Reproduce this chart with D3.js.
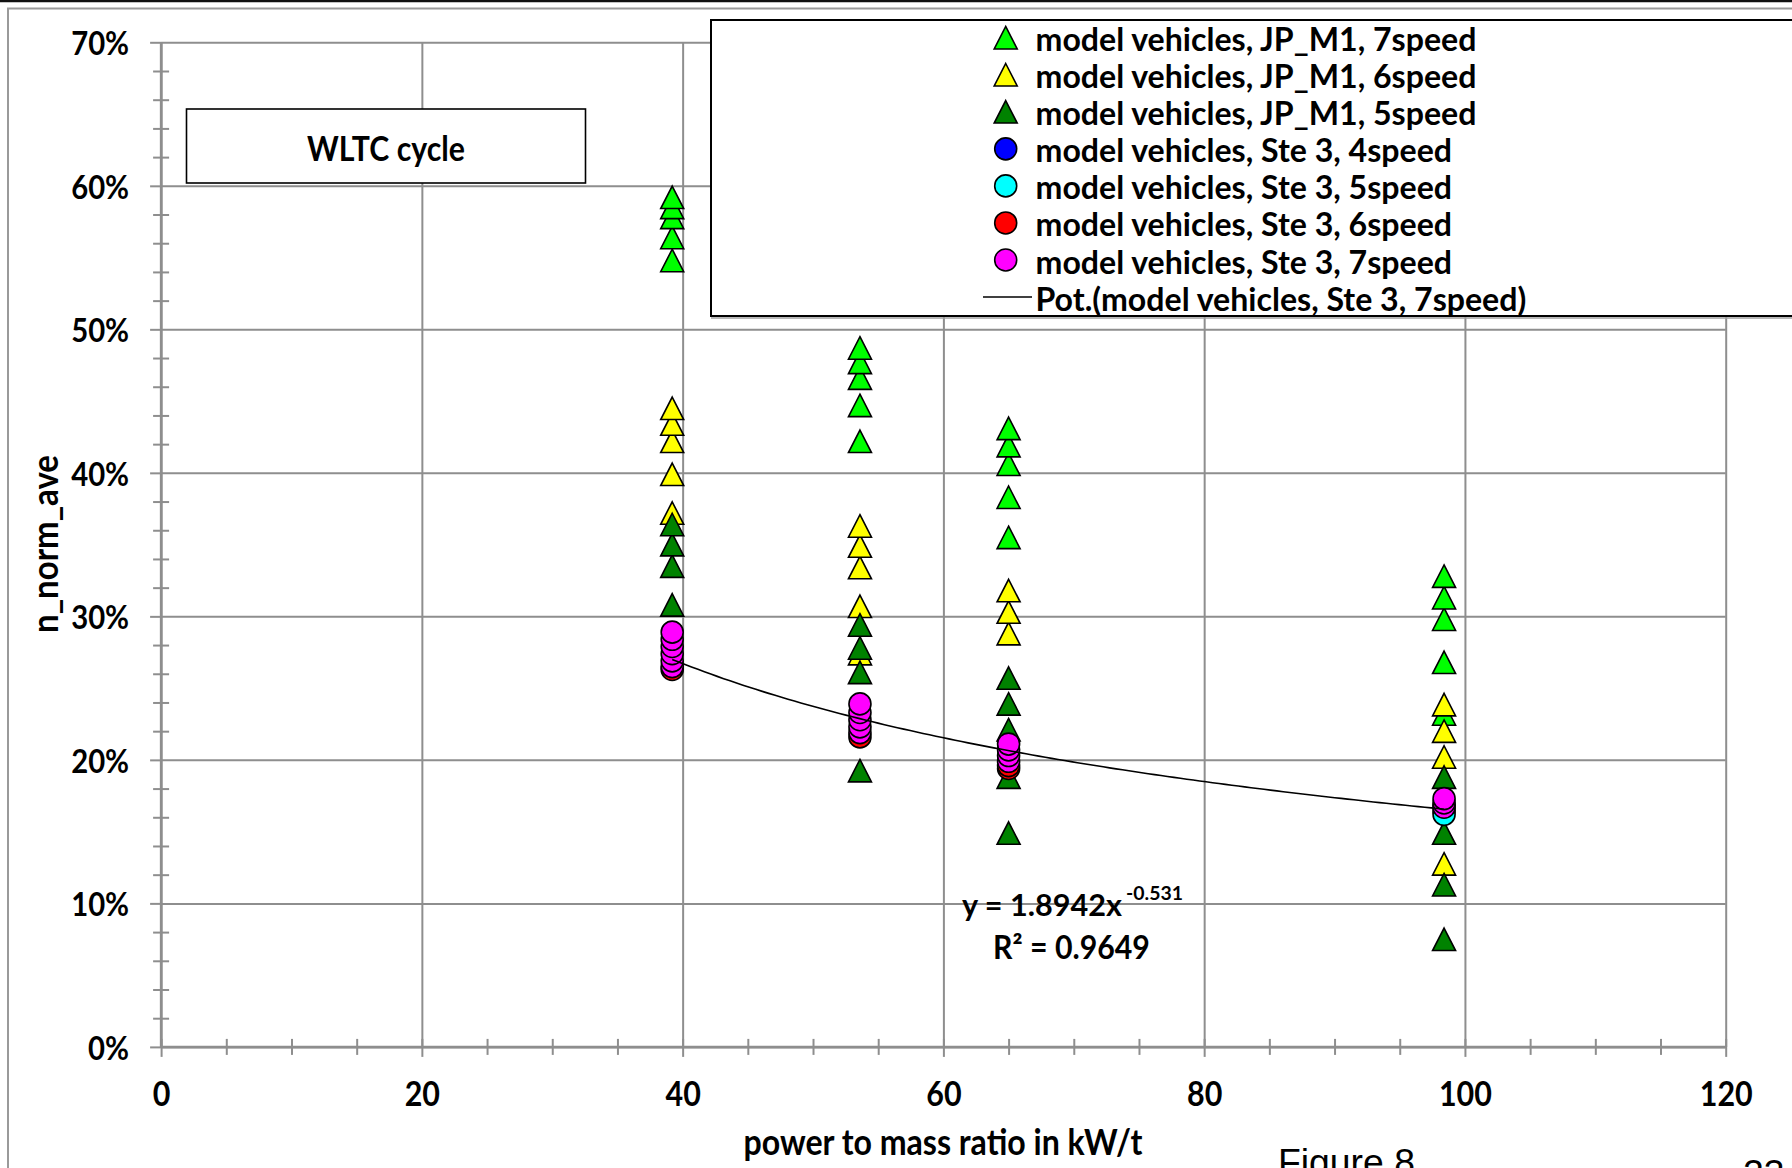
<!DOCTYPE html>
<html><head><meta charset="utf-8">
<script src="https://cdn.jsdelivr.net/npm/d3@7"></script>
<style>html,body{margin:0;padding:0;background:#fff;overflow:hidden}svg{display:block}</style>
</head><body>
<svg id="chart" width="1792" height="1168"></svg>
<script>
// ---------- data ----------
const xPositions = [39.2, 53.6, 65.0, 98.4];           // power to mass ratio, kW/t
const seriesNames = [
  "model vehicles, JP_M1, 7speed",
  "model vehicles, JP_M1, 6speed",
  "model vehicles, JP_M1, 5speed",
  "model vehicles, Ste 3, 4speed",
  "model vehicles, Ste 3, 5speed",
  "model vehicles, Ste 3, 6speed",
  "model vehicles, Ste 3, 7speed"
];
const seriesShapes = ["triangle","triangle","triangle","circle","circle","circle","circle"];
const seriesColors = ["#00ff00","#ffff00","#008200","#0000ff","#00ffff","#ff0000","#ff00ff"];
// values in %, one list per x position
const jp7  = [[54.8,56.4,57.8,58.5,59.2],[42.2,44.7,46.6,47.7,48.7],[35.5,38.3,40.6,41.9,43.1],[23.2,26.8,29.8,31.3,32.8]];
const jp6  = [[37.2,39.9,42.2,43.4,44.5],[27.4,30.7,33.4,34.9,36.3],[28.8,30.3,31.8],[12.75,20.2,22.0,23.85]];
const jp5  = [[30.8,33.5,35.0,36.4],[19.25,26.1,27.8,29.4],[14.9,18.8,22.1,23.9,25.7],[7.5,11.3,14.9,18.8]];
const ste4 = [[],[],[],[16.45]];
const ste5 = [[],[],[],[16.2]];
const ste6 = [[26.3],[21.6],[19.4,19.6],[16.8]];
const ste7 = [[26.5,26.9,27.4,27.9,28.4,28.9],[21.9,22.3,22.8,23.3,23.9],[19.9,20.3,20.7,21.1],[16.7,17.0,17.3]];
const seriesValues = [jp7, jp6, jp5, ste4, ste5, ste6, ste7];
// power trendline of Ste 3, 7speed: y = a * x^b
const trendName = "Pot.(model vehicles, Ste 3, 7speed)";
const trendA = 1.8942, trendB = -0.531;
const trendRange = [39.2, 98.4];
const equationMain = "y = 1.8942x", equationExp = "-0.531", rSquaredLabel = "R² = 0.9649";
const xTicks = [0,20,40,60,80,100,120];
const yTicks = [0,10,20,30,40,50,60,70];
const xTitle = "power to mass ratio in kW/t";
const yTitle = "n_norm_ave";
const boxLabel = "WLTC cycle";
const figureLabel = "Figure 8";
const pageLabel = "23";

// ---------- drawing ----------
const svg = d3.select("#chart");
const W = 1792, H = 1168;
const gray = "#8e8e8e";
const FONT = "Lato, 'Open Sans', sans-serif";
const x = d3.scaleLinear().domain([0,120]).range([161.1,1725.7]);
const y = d3.scaleLinear().domain([0,70]).range([1046.9,42.3]);

function fitSize(node, target){
  d3.select(node).attr("font-size", 40);
  const w = node.getComputedTextLength();
  return 40 * target / w;
}
// fit the width of a reference node; optionally make glyphs taller and condense them back
function styleGroup(sel, refNode, target, stretch){
  const s = fitSize(refNode, target);
  sel.attr("font-size", s*stretch).attr("textLength", null);
  if(stretch !== 1){
    sel.each(function(){
      const w = this.getComputedTextLength();
      d3.select(this).attr("textLength", w/stretch).attr("lengthAdjust","spacingAndGlyphs");
    });
  }
  return s*stretch;
}

svg.append("rect").attr("width",W).attr("height",H).attr("fill","#fff");
// outer frame
svg.append("rect").attr("x",8).attr("y",8.5).attr("width",W+20).attr("height",H+20)
  .attr("fill","none").attr("stroke","#9a9a9a").attr("stroke-width",2);
svg.append("line").attr("x1",0).attr("x2",W).attr("y1",1).attr("y2",1).attr("stroke","#111").attr("stroke-width",2.5);

// gridlines
svg.append("g").attr("transform",`translate(0,${y(0)})`)
  .call(d3.axisBottom(x).tickValues(xTicks).tickSize(-(y(0)-y(70))).tickFormat(""))
  .call(g=>g.select(".domain").remove())
  .selectAll("line").attr("stroke",gray).attr("stroke-width",2);
svg.append("g").attr("transform",`translate(${x(0)},0)`)
  .call(d3.axisLeft(y).tickValues(yTicks).tickSize(-(x(120)-x(0))).tickFormat(""))
  .call(g=>g.select(".domain").remove())
  .selectAll("line").attr("stroke",gray).attr("stroke-width",2);

// minor ticks
const yMinor = d3.range(0,71,2).filter(v=>v%10!==0);
svg.append("g").attr("transform",`translate(${x(0)},0)`)
  .call(d3.axisLeft(y).tickValues(yMinor).tickSize(8).tickFormat(""))
  .call(g=>g.select(".domain").remove())
  .selectAll("line").attr("x2",-8).attr("x1",8).attr("stroke",gray).attr("stroke-width",2);
const xMinor = d3.range(0,121,5).filter(v=>v%20!==0);
svg.append("g").attr("transform",`translate(0,${y(0)})`)
  .call(d3.axisBottom(x).tickValues(xMinor).tickSize(8).tickFormat(""))
  .call(g=>g.select(".domain").remove())
  .selectAll("line").attr("y1",-8).attr("y2",8).attr("stroke",gray).attr("stroke-width",2);

// y axis with labels
const yAxis = svg.append("g").attr("transform",`translate(${x(0)},0)`)
  .call(d3.axisLeft(y).tickValues(yTicks).tickSize(11).tickPadding(21).tickFormat(d=>d+"%"));
yAxis.attr("font-size",null);
yAxis.select(".domain").attr("stroke",gray).attr("stroke-width",2.5).attr("d",`M0,${y(70)}V${y(0)}`);
yAxis.selectAll(".tick line").attr("stroke",gray).attr("stroke-width",2);
const yLab = yAxis.selectAll(".tick text").attr("font-family",FONT).attr("font-weight","bold").attr("fill","#000")
  .attr("dy",null).attr("dominant-baseline","central");
styleGroup(yLab, yLab.filter(d=>d===70).node(), 58, 1.12);

// x axis with labels
const xAxis = svg.append("g").attr("transform",`translate(0,${y(0)})`)
  .call(d3.axisBottom(x).tickValues(xTicks).tickSize(10).tickPadding(30).tickFormat(d=>d));
xAxis.attr("font-size",null);
xAxis.select(".domain").attr("stroke",gray).attr("stroke-width",2.5).attr("d",`M${x(0)},0H${x(120)}`);
xAxis.selectAll(".tick line").attr("y1",-8).attr("stroke",gray).attr("stroke-width",2);
const xLab = xAxis.selectAll(".tick text").attr("font-family",FONT).attr("font-weight","bold").attr("fill","#000")
  .attr("y",1092.5-y(0)).attr("dy",null).attr("dominant-baseline","central");
styleGroup(xLab, xLab.filter(d=>d===100).node(), 53, 1.12);

// axis titles
const xt = svg.append("text").text(xTitle).attr("font-family",FONT).attr("font-weight","bold")
  .attr("text-anchor","middle").attr("x",943).attr("y",1141).attr("dominant-baseline","central");
styleGroup(xt, xt.node(), 399, 1.1);
const yt = svg.append("text").text(yTitle).attr("font-family",FONT).attr("font-weight","bold")
  .attr("text-anchor","middle").attr("dominant-baseline","central")
  .attr("transform","translate(44,544) rotate(-90)");
styleGroup(yt, yt.node(), 178, 1.1);

// WLTC box
svg.append("rect").attr("x",186.5).attr("y",109).attr("width",399).attr("height",74)
  .attr("fill","#fff").attr("stroke","#000").attr("stroke-width",1.6);
const bt = svg.append("text").text(boxLabel).attr("font-family",FONT).attr("font-weight","bold")
  .attr("text-anchor","middle").attr("x",386).attr("y",148).attr("dominant-baseline","central");
styleGroup(bt, bt.node(), 158, 1.12);

// markers
const triPath = (w,h)=>`M0,${-h/2}L${w/2},${h/2}L${-w/2},${h/2}Z`;
function drawMarker(g, shape, color){
  if(shape==="triangle") g.append("path").attr("d",triPath(23,22.5));
  else g.append("circle").attr("r",11);
  g.selectAll("path,circle").attr("fill",color).attr("stroke","#000").attr("stroke-width",1.6);
}
const points = [];
seriesValues.forEach((vals,si)=>{
  vals.forEach((list,xi)=>{
    list.slice().sort((a,b)=>a-b).forEach(v=>points.push({si, xv:xPositions[xi], v}));
  });
});
const markers = svg.append("g").selectAll("g").data(points).join("g")
  .attr("transform",d=>`translate(${x(d.xv)},${y(d.v)})`);
markers.each(function(d){ drawMarker(d3.select(this), seriesShapes[d.si], seriesColors[d.si]); });

// trendline
const trendXs = d3.range(trendRange[0], trendRange[1]+0.001, (trendRange[1]-trendRange[0])/120);
svg.append("path").datum(trendXs)
  .attr("d", d3.line().x(d=>x(d)).y(d=>y(100*trendA*Math.pow(d,trendB))))
  .attr("fill","none").attr("stroke","#000").attr("stroke-width",1.6);

// equation: main part, then the exponent placed right after it
const eq = svg.append("text").text(equationMain).attr("font-family",FONT).attr("font-weight","bold")
  .attr("x",962).attr("y",916);
styleGroup(eq, eq.node(), 160, 1);
const ex = svg.append("text").text(equationExp).attr("font-family",FONT).attr("font-weight","bold")
  .attr("x",962+160+4).attr("y",900);
styleGroup(ex, ex.node(), 57, 1);
const r2 = svg.append("text").text(rSquaredLabel).attr("font-family",FONT).attr("font-weight","bold")
  .attr("x",993).attr("y",959);
styleGroup(r2, r2.node(), 157, 1.06);

// legend
const lg = svg.append("g");
lg.append("rect").attr("x",711).attr("y",20).attr("width",1200).attr("height",296)
  .attr("fill","#fff").attr("stroke","#000").attr("stroke-width",2);
lg.append("line").attr("x1",711).attr("x2",W).attr("y1",318).attr("y2",318).attr("stroke","#a0a0a0").attr("stroke-width",1.5);
const rowY = i => 37.7 + i*37.05;
const legendTexts = [];
seriesNames.forEach((name,i)=>{
  const g = lg.append("g").attr("transform",`translate(1005.7,${rowY(i)})`);
  drawMarker(g, seriesShapes[i], seriesColors[i]);
  legendTexts.push(name);
});
lg.append("line").attr("x1",983).attr("x2",1032).attr("y1",rowY(7)).attr("y2",rowY(7))
  .attr("stroke","#000").attr("stroke-width",1.6);
legendTexts.push(trendName);
const lgText = lg.selectAll("text.lg").data(legendTexts).join("text").attr("class","lg")
  .text(d=>d).attr("x",1035.5).attr("y",(d,i)=>rowY(i)+1)
  .attr("font-family",FONT).attr("font-weight","bold").attr("dominant-baseline","central");
styleGroup(lgText, lgText.node(), 441, 1);

// page footer (cut by the page edge as in the source)
const fg = svg.append("text").text(figureLabel).attr("font-family","'Liberation Sans', Arial, sans-serif")
  .attr("x",1278).attr("y",1175);
fg.attr("font-size",fitSize(fg.node(),137));
svg.append("text").text(pageLabel).attr("font-family","'Liberation Sans', Arial, sans-serif")
  .attr("font-size",fg.attr("font-size")).attr("x",1743).attr("y",1186);
</script>
</body></html>
